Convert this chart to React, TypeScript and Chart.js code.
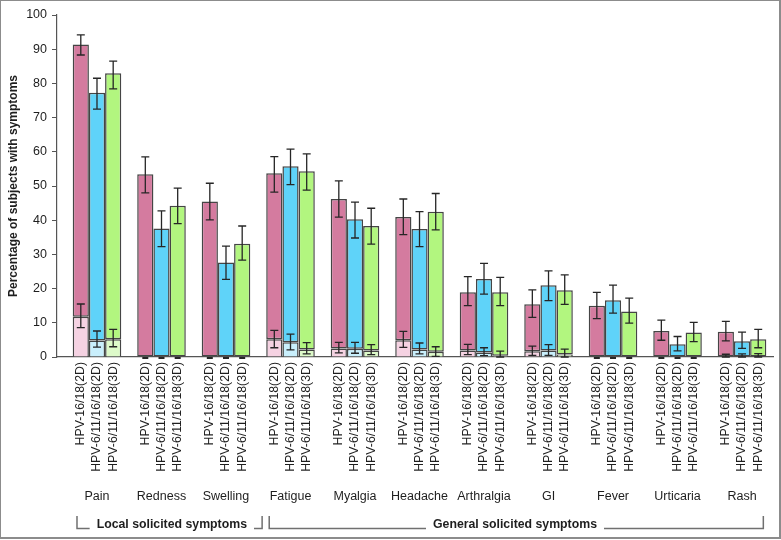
import { useEffect, useRef } from 'react';
import { Chart, registerables } from 'chart.js';

Chart.register(...registerables);

const symptoms = ['Pain', 'Redness', 'Swelling', 'Fatigue', 'Myalgia', 'Headache', 'Arthralgia', 'GI', 'Fever', 'Urticaria', 'Rash'];
const groupLabels = ['HPV-16/18(2D)', 'HPV-6/11/16/18(2D)', 'HPV-6/11/16/18(3D)'];
const yTicks = [0, 10, 20, 30, 40, 50, 60, 70, 80, 90, 100];

// HPV-16/18 (2D)
const hpv1618Any = [91.4, 53.4, 45.5, 53.7, 46.2, 40.9, 18.9, 15.4, 15.0, 7.6, 7.4];
const hpv1618AnyLow = [88.3, 48.0, 40.1, 48.2, 40.9, 35.8, 15.0, 11.6, 11.2, 4.9, 4.7];
const hpv1618AnyHigh = [94.2, 58.5, 50.8, 58.6, 51.5, 46.2, 23.5, 19.6, 18.9, 10.8, 10.4];
const hpv1618G3 = [11.8, 0, 0, 5.2, 2.5, 4.9, 1.9, 1.7, 0, 0, 0];
const hpv1618G3Low = [8.6, 0, 0, 2.7, 1.2, 2.8, 0.7, 0.5, 0, 0, 0];
const hpv1618G3High = [15.5, 0, 0, 7.8, 4.3, 7.5, 3.7, 3.2, 0, 0, 0.8];

// HPV-6/11/16/18 (2D)
const hpv4v2Any = [77.3, 37.6, 27.6, 55.8, 40.3, 37.4, 22.8, 21.0, 16.6, 3.7, 4.6];
const hpv4v2AnyLow = [72.5, 32.3, 22.7, 50.4, 34.8, 32.3, 18.4, 16.5, 12.8, 1.8, 2.5];
const hpv4v2AnyHigh = [81.5, 42.7, 32.4, 60.8, 45.3, 42.5, 27.4, 25.2, 21.0, 6.0, 7.3];
const hpv4v2G3 = [4.8, 0, 0, 4.3, 2.4, 2.2, 1.3, 1.9, 0, 0, 0];
const hpv4v2G3Low = [2.9, 0, 0, 2.1, 1.1, 0.9, 0.4, 0.5, 0, 0, 0];
const hpv4v2G3High = [7.6, 0, 0, 6.7, 4.3, 4.1, 2.7, 3.6, 0, 0, 0.9];

// HPV-6/11/16/18 (3D)
const hpv4v3Any = [83.0, 44.2, 33.1, 54.3, 38.3, 42.5, 18.9, 19.5, 13.3, 7.2, 5.2];
const hpv4v3AnyLow = [78.4, 39.0, 28.3, 48.8, 33.0, 37.2, 15.0, 15.4, 9.9, 4.5, 2.7];
const hpv4v3AnyHigh = [86.5, 49.4, 38.3, 59.4, 43.5, 47.8, 23.3, 24.0, 17.2, 10.1, 8.1];
const hpv4v3G3 = [5.2, 0, 0, 2.2, 1.9, 1.5, 0.4, 0.7, 0, 0, 0];
const hpv4v3G3Low = [3.0, 0, 0, 0.9, 0.7, 0.2, 0, 0, 0, 0, 0];
const hpv4v3G3High = [8.1, 0, 0, 4.2, 3.6, 3.0, 1.7, 2.3, 0, 0, 1.0];

const FONT = '"Liberation Sans", Arial, Helvetica, sans-serif';
const TEXT = '#1e1e1e';
const EDGE = '#454545';

export default function App() {
  const ref = useRef<HTMLCanvasElement | null>(null);

  useEffect(() => {
    document.body.style.margin = '0';
    const canvas = ref.current;
    if (!canvas) return;

    const series = [
      { any: hpv1618Any, lo: hpv1618AnyLow, hi: hpv1618AnyHigh, g3: hpv1618G3, g3lo: hpv1618G3Low, g3hi: hpv1618G3High, dark: '#d47b9f', light: '#f5d2e2' },
      { any: hpv4v2Any, lo: hpv4v2AnyLow, hi: hpv4v2AnyHigh, g3: hpv4v2G3, g3lo: hpv4v2G3Low, g3hi: hpv4v2G3High, dark: '#5fd3f9', light: '#c9effc' },
      { any: hpv4v3Any, lo: hpv4v3AnyLow, hi: hpv4v3AnyHigh, g3: hpv4v3G3, g3lo: hpv4v3G3Low, g3hi: hpv4v3G3High, dark: '#b2f67f', light: '#ddfac9' },
    ];

    const datasets: any[] = [];
    series.forEach((s, k) => {
      datasets.push({
        label: groupLabels[k] + ' grade 3',
        data: s.g3.map((v, i) => ({ x: i, y: v })),
        backgroundColor: s.light,
        borderColor: EDGE,
        borderWidth: 1.5,
        stack: 's' + k,
      });
      datasets.push({
        label: groupLabels[k],
        data: s.any.map((v, i) => ({ x: i, y: +(v - s.g3[i]).toFixed(2) })),
        backgroundColor: s.dark,
        borderColor: EDGE,
        borderWidth: 1.5,
        borderSkipped: false,
        stack: 's' + k,
      });
    });

    const errorBars = {
      id: 'errorBars',
      afterDatasetsDraw(chart: any) {
        const ctx = chart.ctx;
        const ys = chart.scales.y;
        ctx.save();
        ctx.strokeStyle = '#262626';
        ctx.lineWidth = 1.3;
        const draw = (x: number, lo: number, hi: number) => {
          const y1 = ys.getPixelForValue(lo);
          const y2 = ys.getPixelForValue(hi);
          ctx.beginPath();
          if (Math.abs(y1 - y2) > 0.5) {
            ctx.moveTo(x, y1);
            ctx.lineTo(x, y2);
          }
          ctx.moveTo(x - 4, y1);
          ctx.lineTo(x + 4, y1);
          ctx.moveTo(x - 4, y2);
          ctx.lineTo(x + 4, y2);
          ctx.stroke();
        };
        series.forEach((s, k) => {
          const meta = chart.getDatasetMeta(k * 2 + 1);
          meta.data.forEach((bar: any, i: number) => {
            draw(bar.x, s.lo[i], s.hi[i]);
            if (s.g3hi[i] === 0) {
              ctx.save();
              ctx.lineWidth = 2;
              const y0 = ys.getPixelForValue(0) + 1;
              ctx.beginPath();
              ctx.moveTo(bar.x - 3, y0);
              ctx.lineTo(bar.x + 3, y0);
              ctx.stroke();
              ctx.restore();
            } else {
              draw(bar.x, s.g3lo[i], s.g3hi[i]);
            }
          });
        });
        ctx.restore();
      },
    };

    const annotations = {
      id: 'annotations',
      afterDraw(chart: any) {
        const ctx = chart.ctx;
        const xs = chart.scales.x;
        ctx.save();
        ctx.fillStyle = TEXT;
        // rotated bar labels
        ctx.font = `12.3px ${FONT}`;
        ctx.textAlign = 'right';
        ctx.textBaseline = 'middle';
        series.forEach((s, k) => {
          const meta = chart.getDatasetMeta(k * 2 + 1);
          meta.data.forEach((bar: any) => {
            ctx.save();
            ctx.translate(bar.x, 362);
            ctx.rotate(-Math.PI / 2);
            ctx.fillText(groupLabels[k], 0, 0);
            ctx.restore();
          });
        });
        // symptom names
        ctx.font = `12.5px ${FONT}`;
        ctx.textAlign = 'center';
        symptoms.forEach((name, i) => {
          ctx.fillText(name, xs.getPixelForValue(i), 497);
        });
        // brackets
        ctx.strokeStyle = '#707070';
        ctx.lineWidth = 1.5;
        ctx.font = `bold 12.3px ${FONT}`;
        const bracket = (a: number, b: number, mid: number, text: string) => {
          const xa = xs.getPixelForValue(a);
          const xb = xs.getPixelForValue(b);
          const xm = xs.getPixelForValue(mid);
          const w = ctx.measureText(text).width;
          const yb = 528.5;
          ctx.beginPath();
          ctx.moveTo(xa, 516);
          ctx.lineTo(xa, yb);
          ctx.lineTo(xm - w / 2 - 7, yb);
          ctx.moveTo(xm + w / 2 + 7, yb);
          ctx.lineTo(xb, yb);
          ctx.lineTo(xb, 516);
          ctx.stroke();
          ctx.fillText(text, xm, 525);
        };
        bracket(-0.31, 2.56, 1.16, 'Local solicited symptoms');
        bracket(2.67, 10.33, 6.48, 'General solicited symptoms');
        // frame
        ctx.strokeStyle = '#8c8c8c';
        ctx.lineWidth = 2;
        ctx.strokeRect(0, 0, 780, 538);
        ctx.restore();
      },
    };

    const chart = new Chart(canvas, {
      type: 'bar',
      data: { datasets },
      options: {
        animation: false,
        responsive: false,
        devicePixelRatio: 1,
        layout: { padding: { left: 0, top: 15, right: 8, bottom: 0 } },
        datasets: { bar: { categoryPercentage: 0.753, barPercentage: 1 } },
        plugins: { legend: { display: false }, tooltip: { enabled: false } },
        scales: {
          x: {
            type: 'linear',
            min: -0.62,
            max: 10.48,
            offset: false,
            grid: { display: false },
            border: { display: true, color: '#555', width: 1.2 },
            ticks: { display: false },
            afterFit: (scale: any) => { scale.height = 183; },
          },
          y: {
            stacked: true,
            min: 0,
            max: 100,
            afterBuildTicks: (scale: any) => { scale.ticks = yTicks.map((v) => ({ value: v })); },
            grid: { display: true, drawOnChartArea: false, drawTicks: true, tickLength: 5, color: '#555' },
            border: { display: true, color: '#555', width: 1.2 },
            ticks: { color: TEXT, font: { family: FONT, size: 12.5 }, padding: 5 },
            title: {
              display: true,
              text: 'Percentage of subjects with symptoms',
              color: TEXT,
              font: { family: FONT, size: 12, weight: 'bold' },
              padding: { top: 6, bottom: 0 },
            },
            afterFit: (scale: any) => { scale.width = 57; },
          },
        },
      } as any,
      plugins: [errorBars, annotations],
    });

    return () => chart.destroy();
  }, []);

  return (
    <div style={{ width: 781, height: 540, background: '#fff' }}>
      <canvas ref={ref} width={781} height={540} style={{ display: 'block' }} />
    </div>
  );
}
